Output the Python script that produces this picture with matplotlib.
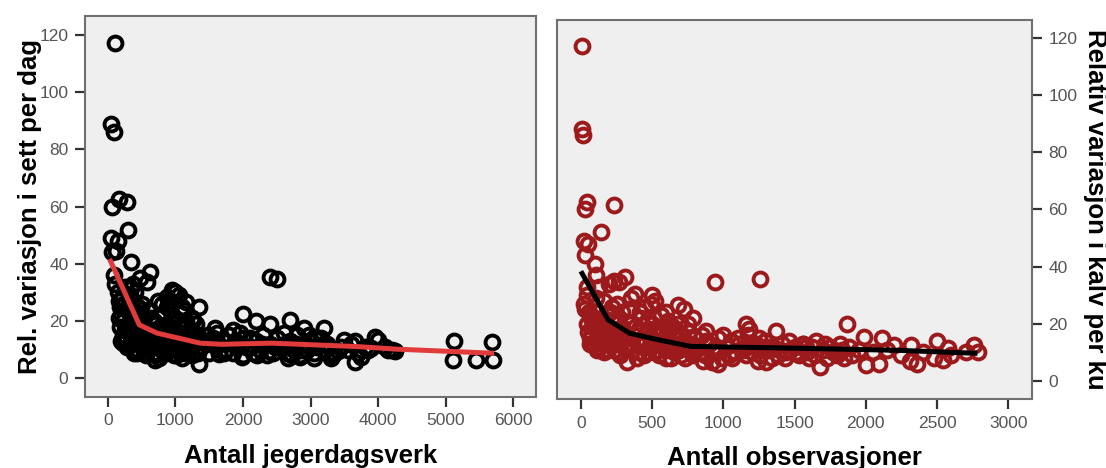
import numpy as np
import matplotlib
matplotlib.use('Agg')
import matplotlib.pyplot as plt

plt.rcParams['font.family'] = ['Liberation Sans', 'DejaVu Sans']

# ------------------------------------------------------------
# Venstre panel: Antall jegerdagsverk vs rel. variasjon i sett per dag
# ------------------------------------------------------------
jeger_x = [
    100, 50, 90, 60, 160, 290, 50, 300, 60, 120, 150, 340, 90, 100, 380, 470, 620, 580, 350,
    2400, 2500,
    950, 1000, 1050, 880, 800, 900, 1100, 1150, 1350, 1260, 2000, 2200, 2400, 2700, 2900,
    3200, 1580, 1850, 3100, 3500, 3650, 3950, 4000, 5120, 5680, 5100, 5450, 5700, 3650,
    3750, 3300, 3050, 2850, 1350, 700, 430, 1100, 4200, 4250, 3900, 3400,
    160, 180, 200, 210, 230, 250, 260, 270, 220, 280, 300, 320, 340, 360, 380, 400, 420,
    440, 450, 470, 490, 500, 510, 530, 180, 240, 290, 330, 410, 460, 200, 350, 380, 430,
    480, 150, 170, 260, 310, 440, 500, 230, 390,
    550, 580, 600, 620, 650, 680, 700, 720, 740, 760, 780, 800, 820, 840, 860, 880, 900,
    920, 940, 960, 980, 1000, 1020, 1040, 1060, 1080, 1100, 1120, 1140, 1160, 1180, 1200,
    1220, 1240, 1260, 1280, 1300, 1320, 1340, 1380, 560, 640, 690, 760, 830, 870, 950,
    1010, 1070, 1130, 1190, 1250, 1310, 590, 660, 730, 810, 890, 970, 1050, 1150, 1230,
    1330, 620, 710, 850, 1090, 1270, 540, 670, 780, 930, 1110, 1210, 1370,
    1450, 1500, 1550, 1600, 1650, 1700, 1750, 1800, 1850, 1900, 1950, 2000, 2050, 2100,
    2150, 2200, 2250, 2300, 2350, 2400, 2450, 2500, 2550, 2600, 2650, 2700, 2750, 2800,
    2850, 2900, 2950, 3000, 3050, 3100, 3150, 3200, 3250, 3350, 3450, 3550, 3600, 3700,
    3800, 3850, 4100, 4150, 1480, 1620, 1720, 1880, 2020, 2120, 2280, 2380, 2480, 2620,
    2720, 2780, 2880, 2980, 3180, 1990, 2210, 2660, 3330,
]
jeger_y = [
    117, 89, 86, 60, 62.5, 61.5, 49, 52, 44, 44.5, 48, 40.5, 36, 33, 33, 35, 37, 33.5, 31.5,
    35.5, 34.8,
    31, 30, 29, 28.5, 26, 27, 25, 26.5, 25, 20.5, 22.5, 20, 19, 20.5, 17.5,
    17.5, 17.5, 17, 14, 13.5, 13, 14.5, 13.5, 13, 12.8, 6.5, 6.5, 6.5, 5.8,
    7.5, 7, 7, 7.5, 5, 6.5, 9, 7, 10, 9.5, 10.5, 9.5,
    27, 25, 22, 28, 20, 17, 14, 13, 15, 24, 19, 16, 22, 12, 27, 18, 14,
    10, 25, 21, 16, 12, 26, 9, 18, 26, 11, 29, 30, 13, 13, 20, 15, 23,
    19, 30, 21, 32, 26, 17, 22, 12.5, 9,
    18, 13, 24, 16, 11, 20, 8, 14, 27, 12, 18, 10, 22, 15, 9, 19, 13,
    24, 11, 17, 8, 21, 14, 10, 18, 23, 12, 16, 9, 20, 13, 11,
    17, 8, 14, 12, 19, 10, 15, 11, 8, 21, 15, 7, 13, 25, 22,
    8, 13, 24, 9, 21, 13, 10, 17, 11, 16, 11, 12, 15, 10, 13,
    9, 13, 19, 17, 9, 16, 15, 9, 14, 16, 19, 15, 13,
    12, 9, 14, 11, 8.5, 13, 10, 15, 9, 12, 16, 8, 11, 14,
    9, 13, 10, 15, 8, 12, 9, 14, 11, 16, 9, 13, 10, 15,
    8, 12, 10, 13, 9, 11, 14, 10, 12, 9, 11, 10, 12, 9,
    11, 10, 11, 10, 15, 16, 9, 13, 14, 11, 12, 9.5, 11, 12,
    8, 12, 10, 15, 12, 7.5, 8, 7, 8,
]

# Glattet trendlinje (venstre)
jeger_trend_x = [42, 466, 730, 1365, 1683, 2423, 3693, 4275, 5677]
jeger_trend_y = [40.9, 18.7, 15.8, 12.3, 11.9, 12.3, 11.1, 10.2, 8.8]

# ------------------------------------------------------------
# Høyre panel: Antall observasjoner vs relativ variasjon i kalv per ku
# ------------------------------------------------------------
obs_x = [
    5, 10, 15, 40, 30, 235, 20, 140, 50, 25, 100, 105, 40,
    940, 1260,
    230, 310, 270, 380, 500, 520, 490, 680, 720, 790, 880, 1160, 1180, 1370, 1870, 1990,
    2110, 2200, 2320, 2500, 2580, 2760, 2790, 2000, 2090, 2310, 2360, 2480, 2540, 1680,
    1300, 320, 920, 1430, 1600, 1650, 1560, 1800, 1750, 1820,
    20, 30, 40, 50, 60, 45, 70, 80, 90, 100, 110, 120, 130, 140, 150, 160, 170, 180, 190,
    200, 210, 220, 240, 250, 260, 270, 280, 290, 300, 65, 85, 105, 125, 145, 175, 195, 215,
    235, 255, 275, 295, 55, 75, 115, 135, 165, 185, 205, 225, 245, 265, 285,
    320, 340, 360, 380, 400, 420, 440, 460, 480, 500, 520, 540, 560, 580, 600, 620, 640,
    660, 680, 700, 720, 740, 760, 780, 800, 330, 350, 370, 390, 410, 430, 450, 470, 490,
    510, 530, 550, 570, 590, 610, 630, 650, 670, 690, 710, 730, 750, 770, 790, 345, 405,
    465, 525, 585, 645, 705, 765, 355, 415, 475, 535, 595, 655,
    820, 850, 870, 900, 930, 960, 990, 1020, 1050, 1080, 1110, 1140, 1170, 1200, 1230,
    1260, 1290, 1320, 1350, 1380, 1410, 1440, 1470, 1500, 1530, 1560, 1590, 1620, 1700,
    1730, 1770, 1830, 1880, 1900, 1950, 2050, 2150, 2250, 2400, 2600, 2700, 840, 880,
    950, 1000, 1040, 1100, 1150, 1190, 1250, 1300, 1340, 1400, 1460, 1520, 1580, 1640,
    1710, 1790, 1850, 860, 960, 1060, 1160, 1240,
]
obs_y = [
    117, 88, 86, 62.5, 60, 61.5, 49, 52, 48, 44, 41, 37, 33,
    34.5, 35.5,
    35, 36.5, 34.5, 30.5, 30, 28, 27, 26.5, 25, 22, 17.5, 20, 18, 17.5, 20, 15.5,
    15, 12.5, 12.5, 14, 11.5, 12.5, 10, 5.5, 6, 7, 6, 8, 7.5, 5,
    6.5, 6.5, 6.5, 8, 8, 14, 13, 9, 12, 13,
    27, 25, 20, 17, 13, 30, 22, 16, 26, 19, 14, 24, 12, 21, 17, 28, 15, 23, 11,
    19, 13, 26, 16, 21, 10, 18, 14, 24, 12, 15, 12.5, 29, 33, 16, 19, 34, 21,
    11, 27, 9, 17, 24, 19, 11, 18, 10, 14, 24, 17, 13, 22, 19,
    15, 25, 11, 19, 13, 22, 9, 17, 12, 20, 10, 16, 23, 13, 8, 18, 11,
    15, 20, 9, 14, 12, 17, 10, 15, 12, 29, 16, 8, 18, 14, 26, 10, 15,
    22, 13, 9, 18, 11, 21, 8, 13, 17, 11, 16, 8, 20, 13, 9, 20, 10,
    21, 16, 15, 19, 12, 11, 13, 24, 18, 11, 24, 10,
    12, 16, 9, 13, 11, 15, 8, 12, 14, 10, 13, 11, 16, 10, 13,
    9, 14, 11, 12, 9, 13, 10, 11, 12, 9, 13, 10, 12, 11,
    8, 10, 11, 12, 9, 11, 10, 11, 9, 10, 9, 10, 10, 14,
    12, 16, 9, 15, 12, 13, 15, 12, 8, 11, 14, 10, 12, 9,
    13, 10, 8, 7, 6, 8, 9, 7,
]

# Glattet trendlinje (høyre)
obs_trend_x = [8, 190, 341, 543, 770, 1478, 2236, 2766]
obs_trend_y = [37.6, 21.4, 16.7, 14.4, 12.1, 11.5, 10.7, 9.7]

# ------------------------------------------------------------
# Figur
# ------------------------------------------------------------
fig = plt.figure(figsize=(11.06, 4.68), dpi=100)
ax1 = fig.add_axes([0.0769, 0.1524, 0.4075, 0.8135])
ax2 = fig.add_axes([0.5039, 0.1468, 0.4289, 0.8105])

bg = '#efefef'
spine_col = '#707070'
tick_col = '#555555'
red_marker = '#9c1a1c'

for ax in (ax1, ax2):
    ax.set_facecolor(bg)
    for s in ax.spines.values():
        s.set_color(spine_col)
        s.set_linewidth(1.5)
    ax.tick_params(direction='out', length=7, width=1.6, color='#333333',
                   labelsize=12.5, labelcolor=tick_col, pad=5)

ax1.plot(jeger_x, jeger_y, 'o', markersize=10, markerfacecolor='none',
         markeredgecolor='black', markeredgewidth=2.8, zorder=3)
ax1.plot(jeger_trend_x, jeger_trend_y, color='#e23b3b', linewidth=3.6, zorder=4)
ax1.set_xlim(-336, 6331)
ax1.set_ylim(-6.4, 126.6)
ax1.set_xticks([0, 1000, 2000, 3000, 4000, 5000, 6000])
ax1.set_yticks([0, 20, 40, 60, 80, 100, 120])
ax1.set_xlabel('Antall jegerdagsverk', fontsize=18.5, fontweight='bold', labelpad=11)
ax1.set_ylabel('Rel. variasjon i sett per dag', fontsize=18.5, fontweight='bold',
               va='center')
ax1.yaxis.set_label_coords(-0.122, 0.5)

ax2.plot(obs_x, obs_y, 'o', markersize=10, markerfacecolor='none',
         markeredgecolor=red_marker, markeredgewidth=2.8, zorder=3)
ax2.plot(obs_trend_x, obs_trend_y, color='black', linewidth=3.6, zorder=4)
ax2.set_xlim(-166, 3164)
ax2.set_ylim(-6.4, 126.2)
ax2.set_xticks([0, 500, 1000, 1500, 2000, 2500, 3000])
ax2.set_yticks([0, 20, 40, 60, 80, 100, 120])
ax2.yaxis.tick_right()
ax2.yaxis.set_label_position('right')
ax2.set_xlabel('Antall observasjoner', fontsize=18.5, fontweight='bold', labelpad=11)
ax2.set_ylabel('Relativ variasjon i kalv per ku', fontsize=18.5, fontweight='bold',
               rotation=270, va='center')
ax2.yaxis.set_label_coords(1.133, 0.5)

plt.savefig('out.png', dpi=100)
